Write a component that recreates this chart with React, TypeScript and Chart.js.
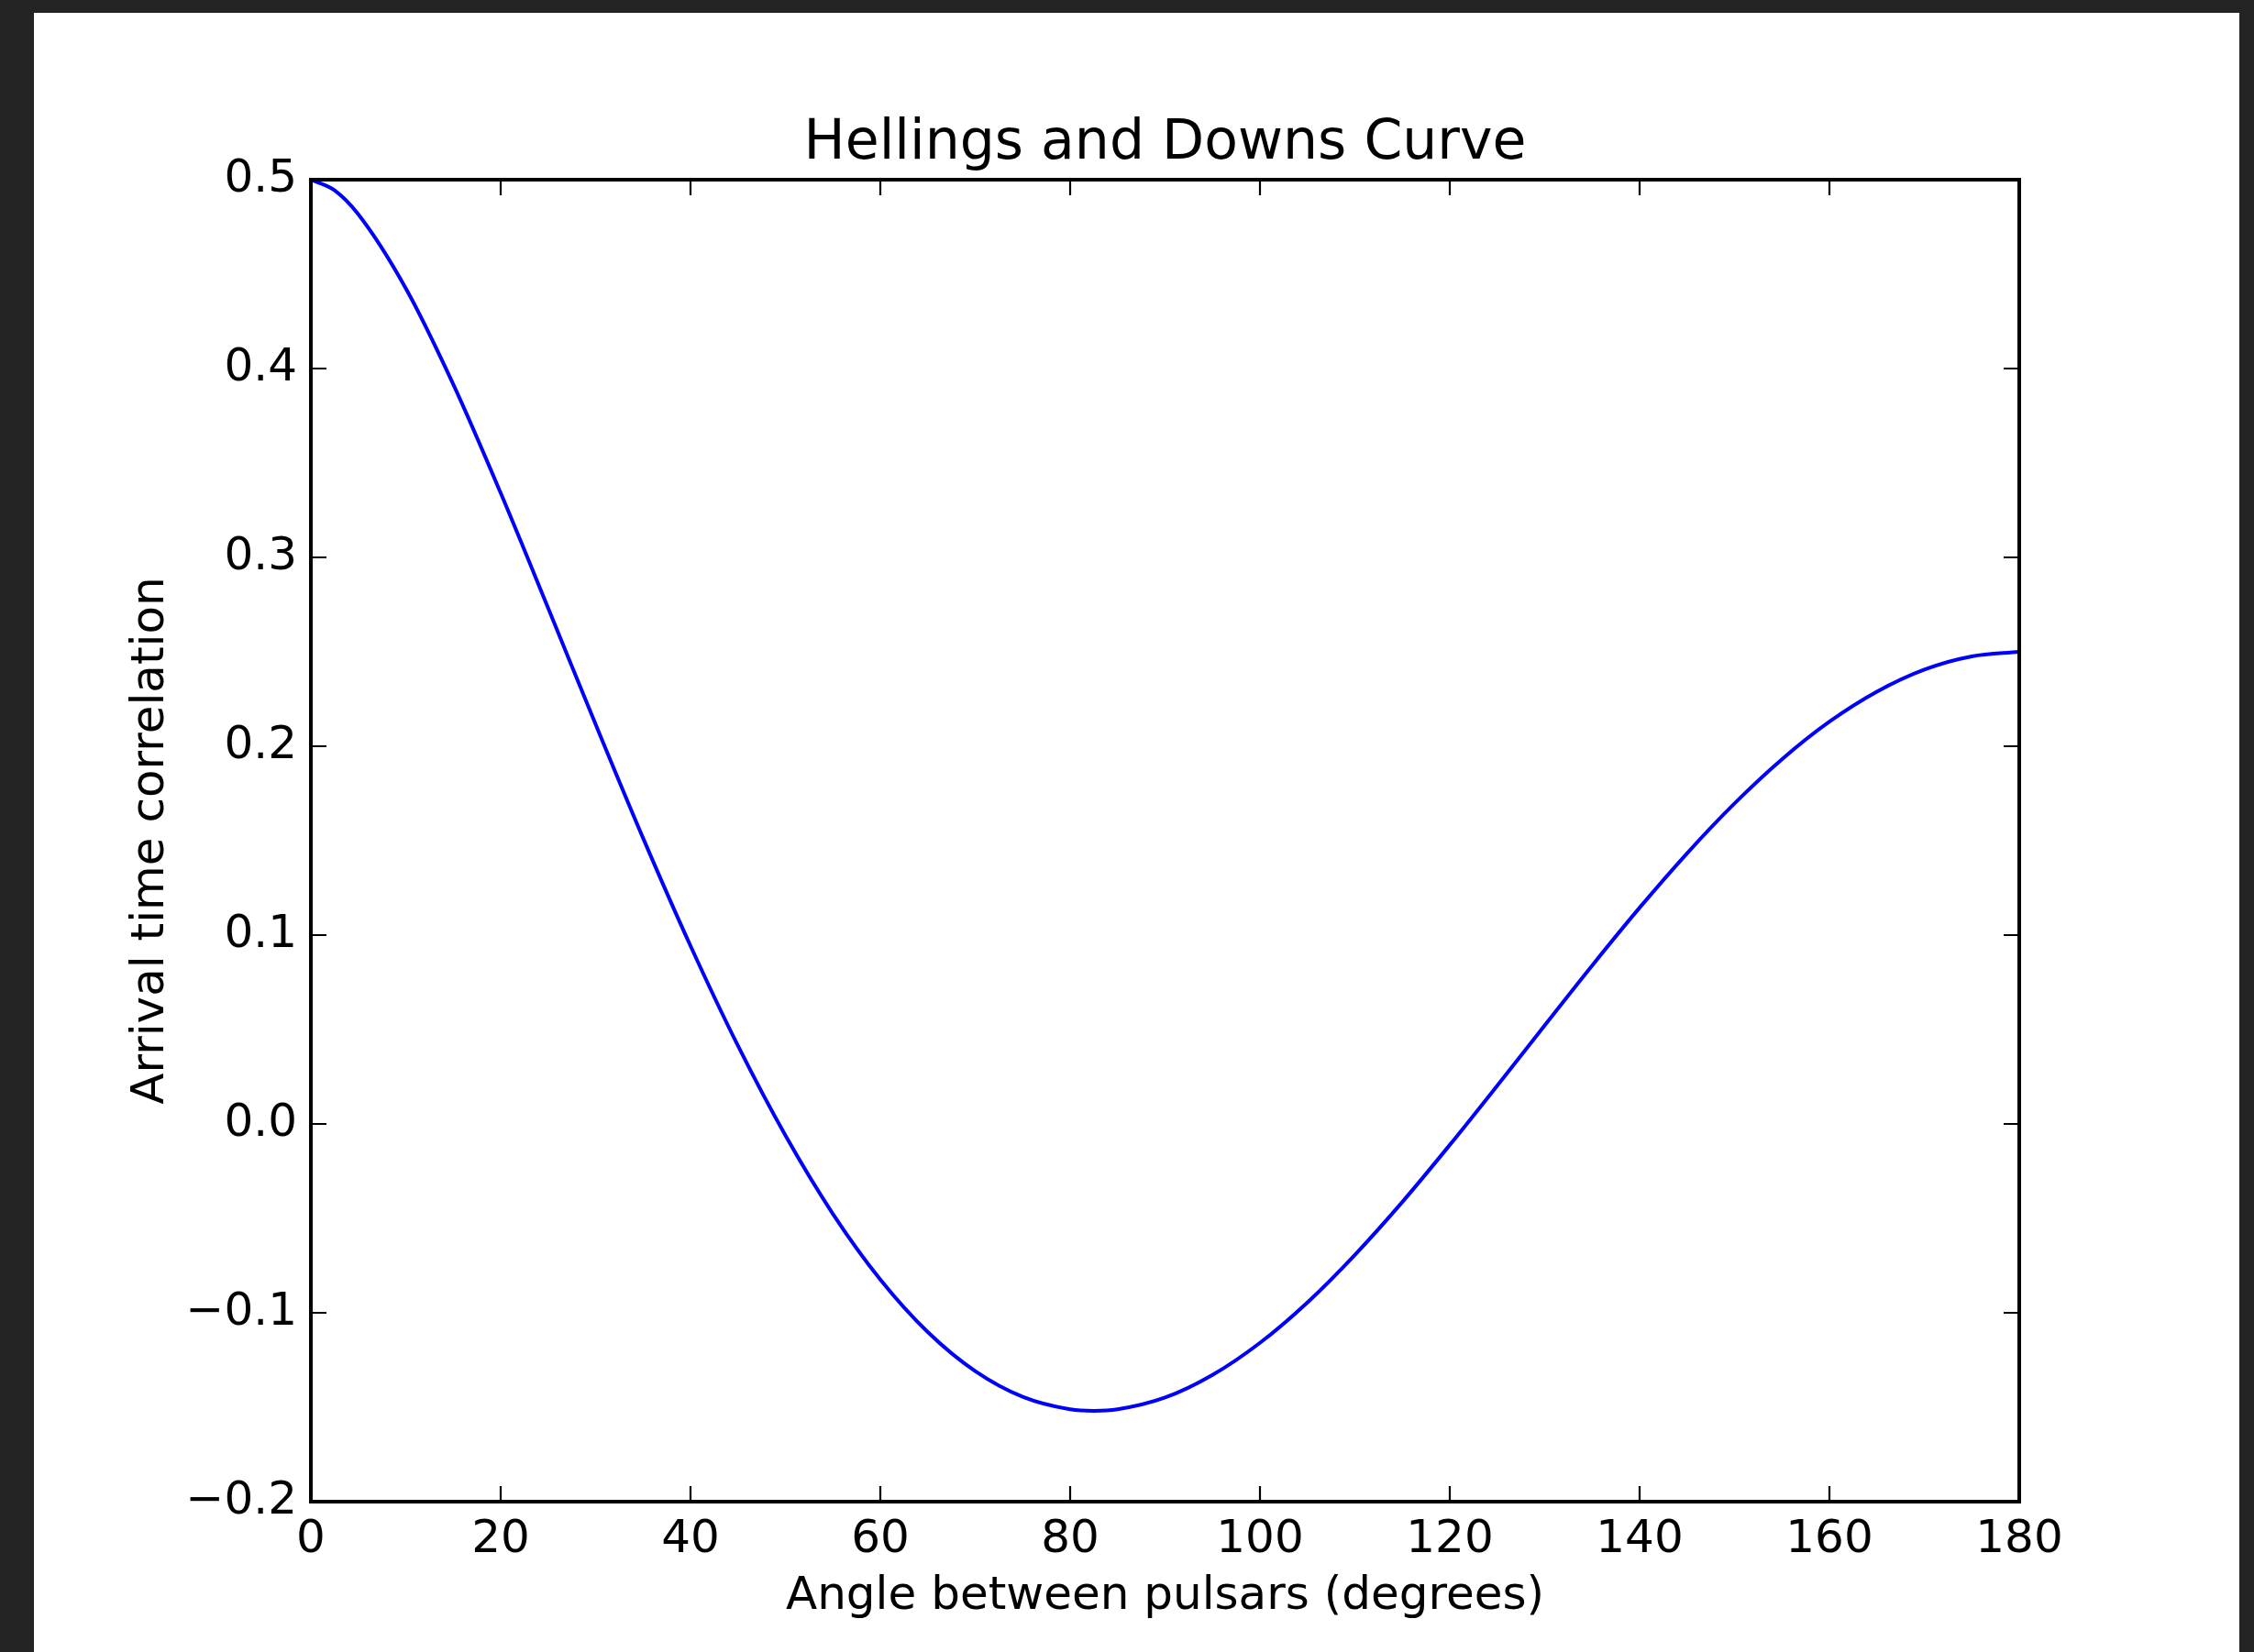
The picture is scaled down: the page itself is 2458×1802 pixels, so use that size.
import React, { useEffect, useRef } from "react";
import { Chart, registerables } from "chart.js";

Chart.register(...registerables);

// Angle between pulsars (degrees)
const angles = [
  0, 2.5, 5, 10, 15, 20, 25, 30, 35, 40, 45, 50, 55, 60, 65, 70, 75, 80, 82.5, 85, 90,
  95, 100, 105, 110, 115, 120, 125, 130, 135, 140, 145, 150, 155, 160, 165, 170, 175, 180,
];

// Arrival time correlation
const correlation = [
  0.5, 0.4944, 0.4817, 0.4425, 0.3917, 0.3341, 0.2732, 0.2116, 0.1514, 0.0943, 0.0414,
  -0.0061, -0.0476, -0.0824, -0.1102, -0.1309, -0.1445, -0.1511, -0.1519, -0.1511, -0.1449,
  -0.1329, -0.1159, -0.0945, -0.0693, -0.0413, -0.0111, 0.0203, 0.0522, 0.0839, 0.1145,
  0.1433, 0.1697, 0.1931, 0.213, 0.2289, 0.2406, 0.2476, 0.25,
];

const xTickValues = [0, 20, 40, 60, 80, 100, 120, 140, 160, 180];
const yTickValues = [-0.2, -0.1, 0.0, 0.1, 0.2, 0.3, 0.4, 0.5];

const titleText = "Hellings and Downs Curve";
const xLabel = "Angle between pulsars (degrees)";
const yLabel = "Arrival time correlation";

const FONT = "'DejaVu Sans', 'Liberation Sans', sans-serif";
const TICK_LEN = 17;

// Center the title over the plot area (as matplotlib does) rather than the canvas.
const titleCenterPlugin = {
  id: "titleOverPlot",
  afterLayout(chart: any) {
    const tb = chart.titleBlock;
    if (!tb) return;
    tb.left = chart.chartArea.left;
    tb.right = chart.chartArea.right;
    tb.width = chart.chartArea.right - chart.chartArea.left;
  },
};

const framePlugin = {
  id: "mplFrame",
  afterDatasetsDraw(chart: any) {
    const { ctx, chartArea, scales } = chart;
    const { left, right, top, bottom } = chartArea;
    const xs = scales.x;
    const ys = scales.y;
    ctx.save();
    ctx.strokeStyle = "#000";
    ctx.lineWidth = 2.2;
    ctx.beginPath();
    for (const v of xTickValues) {
      const px = Math.round(xs.getPixelForValue(v));
      ctx.moveTo(px, bottom);
      ctx.lineTo(px, bottom - TICK_LEN);
      ctx.moveTo(px, top);
      ctx.lineTo(px, top + TICK_LEN);
    }
    for (const v of yTickValues) {
      const py = Math.round(ys.getPixelForValue(v));
      ctx.moveTo(left, py);
      ctx.lineTo(left + TICK_LEN, py);
      ctx.moveTo(right, py);
      ctx.lineTo(right - TICK_LEN, py);
    }
    ctx.stroke();
    ctx.lineWidth = 4;
    ctx.strokeRect(left, top, right - left, bottom - top);
    ctx.restore();
  },
};

function fmt(v: number): string {
  const s = Math.abs(v).toFixed(1);
  return v < -1e-9 ? "\u2212" + s : s;
}

export default function App() {
  const ref = useRef<HTMLCanvasElement | null>(null);

  useEffect(() => {
    if (!ref.current) return;
    const chart = new Chart(ref.current, {
      type: "line",
      data: {
        datasets: [
          {
            data: angles.map((a, i) => ({ x: a, y: correlation[i] })),
            borderColor: "#0000ff",
            borderWidth: 4,
            pointRadius: 0,
            fill: false,
            cubicInterpolationMode: "monotone",
          },
        ],
      },
      plugins: [titleCenterPlugin, framePlugin],
      options: {
        animation: false,
        responsive: false,
        devicePixelRatio: 1,
        layout: { padding: { left: 98, right: 240, top: 0, bottom: 30 } },
        plugins: {
          legend: { display: false },
          tooltip: { enabled: false },
          title: {
            display: true,
            text: titleText,
            color: "#000",
            font: { family: FONT, size: 60, weight: "normal", lineHeight: 1.2 },
            padding: { top: 107, bottom: 3 },
          },
        },
        scales: {
          x: {
            type: "linear",
            min: 0,
            max: 180,
            grid: { display: false, drawTicks: false },
            border: { display: false },
            afterBuildTicks: (s: any) => {
              s.ticks = xTickValues.map((v) => ({ value: v }));
            },
            afterFit: (s: any) => {
              s.height = 134;
              s.paddingLeft = 0;
              s.paddingRight = 0;
            },
            ticks: {
              color: "#000",
              font: { family: FONT, size: 50, lineHeight: 1.2 },
              padding: 12,
              maxRotation: 0,
              autoSkip: false,
              callback: (v: any) => String(v),
            },
            title: {
              display: true,
              text: xLabel,
              color: "#000",
              font: { family: FONT, size: 50, lineHeight: 1.2 },
              padding: 0,
            },
          },
          y: {
            type: "linear",
            min: -0.2,
            max: 0.5,
            grid: { display: false, drawTicks: false },
            border: { display: false },
            afterBuildTicks: (s: any) => {
              s.ticks = yTickValues.map((v) => ({ value: v }));
            },
            afterFit: (s: any) => {
              s.width = 204;
              s.paddingTop = 0;
              s.paddingBottom = 0;
            },
            ticks: {
              color: "#000",
              font: { family: FONT, size: 50, lineHeight: 1.2 },
              padding: 15,
              autoSkip: false,
              callback: (v: any) => fmt(Number(v)),
            },
            title: {
              display: true,
              text: yLabel,
              color: "#000",
              font: { family: FONT, size: 50, lineHeight: 1.2 },
              padding: 0,
            },
          },
        },
      } as any,
    });
    return () => chart.destroy();
  }, []);

  return (
    <div
      style={{
        position: "fixed",
        left: 0,
        top: 0,
        width: 2458,
        height: 1802,
        background: "#232323",
        overflow: "hidden",
      }}
    >
      <div
        style={{
          position: "absolute",
          left: 37,
          top: 14,
          width: 2405,
          height: 1788,
          background: "#ffffff",
        }}
      >
        <canvas ref={ref} width={2405} height={1788} style={{ display: "block" }} />
      </div>
    </div>
  );
}
